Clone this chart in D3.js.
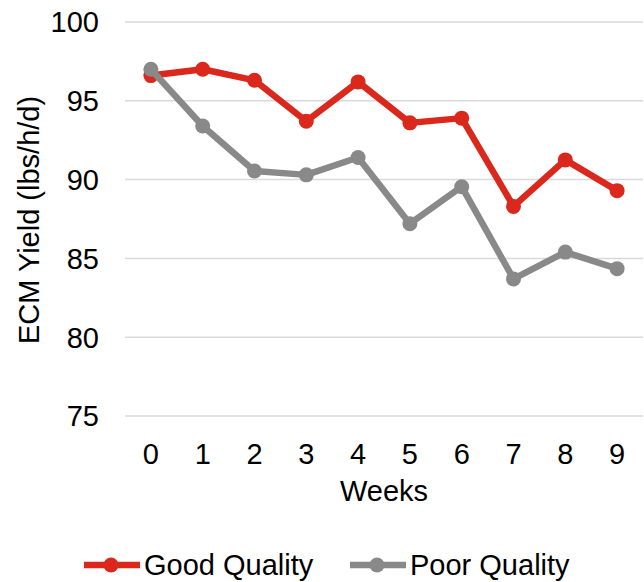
<!DOCTYPE html>
<html>
<head>
<meta charset="utf-8">
<script src="https://cdn.jsdelivr.net/npm/d3@7"></script>
<style>
  body { margin: 0; background: #fff; }
  text { font-family: "Liberation Sans", Arial, sans-serif; fill: #000; }
</style>
</head>
<body>
<script>
// data
const weeks = [0, 1, 2, 3, 4, 5, 6, 7, 8, 9];
const goodQuality = [96.6, 97.0, 96.3, 93.7, 96.2, 93.6, 93.9, 88.3, 91.25, 89.3];
const poorQuality = [97.0, 93.4, 90.55, 90.3, 91.4, 87.2, 89.55, 83.7, 85.4, 84.35];
const yTicks = [75, 80, 85, 90, 95, 100];
const seriesNames = ["Good Quality", "Poor Quality"];
const seriesColors = ["#DA291C", "#898989"];

const width = 644, height = 582;
const fontSize = 29;

const svg = d3.select("body").append("svg")
    .attr("width", width)
    .attr("height", height);

let x = d3.scaleBand()
    .domain(weeks)
    .range([125, 643])
    .padding(0);

let y = d3.scaleLinear()
    .domain([75, 100])
    .range([416, 22]);

//gridlines
svg.append("g")
  .selectAll("line")
  .data(yTicks)
  .join("line")
    .attr("x1", 125)
    .attr("x2", 643)
    .attr("y1", d => y(d))
    .attr("y2", d => y(d))
    .attr("stroke", "#D9D9D9")
    .attr("stroke-width", 1.5);

//y tick labels
svg.append("g")
  .selectAll("text")
  .data(yTicks)
  .join("text")
    .attr("x", 99)
    .attr("y", d => y(d))
    .attr("dy", "0.36em")
    .attr("text-anchor", "end")
    .style("font-size", fontSize + "px")
    .text(d => d);

//x tick labels
svg.append("g")
  .selectAll("text")
  .data(weeks)
  .join("text")
    .attr("x", d => x(d) + x.bandwidth() / 2)
    .attr("y", 464)
    .attr("text-anchor", "middle")
    .style("font-size", fontSize + "px")
    .text(d => d);

//axis titles
svg.append("text")
    .attr("x", 384)
    .attr("y", 501)
    .attr("text-anchor", "middle")
    .style("font-size", fontSize + "px")
    .text("Weeks");

svg.append("text")
    .attr("transform", "translate(39,220) rotate(-90)")
    .attr("text-anchor", "middle")
    .style("font-size", fontSize + "px")
    .text("ECM Yield (lbs/h/d)");

//lines
let line = d3.line()
    .x((d, i) => x(weeks[i]) + x.bandwidth() / 2)
    .y(d => y(d));

let series = [goodQuality, poorQuality];

// gray drawn last, it sits on top of red at week 0
[0, 1].forEach(k => {
  let g = svg.append("g");
  g.append("path")
      .datum(series[k])
      .attr("d", line)
      .attr("fill", "none")
      .attr("stroke", seriesColors[k])
      .attr("stroke-width", 6.5)
      .attr("stroke-linejoin", "round");
  g.selectAll("circle")
    .data(series[k])
    .join("circle")
      .attr("cx", (d, i) => x(weeks[i]) + x.bandwidth() / 2)
      .attr("cy", d => y(d))
      .attr("r", 7.5)
      .attr("fill", seriesColors[k]);
});

//legend
let legendX = [84, 350];
let legend = svg.append("g")
  .selectAll("g")
  .data(seriesNames)
  .join("g")
    .attr("transform", (d, i) => "translate(" + legendX[i] + ",565)");

legend.append("line")
    .attr("x1", 0)
    .attr("x2", 56)
    .attr("stroke", (d, i) => seriesColors[i])
    .attr("stroke-width", 6.5);

legend.append("circle")
    .attr("cx", 27)
    .attr("r", 7.5)
    .attr("fill", (d, i) => seriesColors[i]);

legend.append("text")
    .attr("x", 60)
    .attr("y", 10)
    .style("font-size", fontSize + "px")
    .text(d => d);
</script>
</body>
</html>
